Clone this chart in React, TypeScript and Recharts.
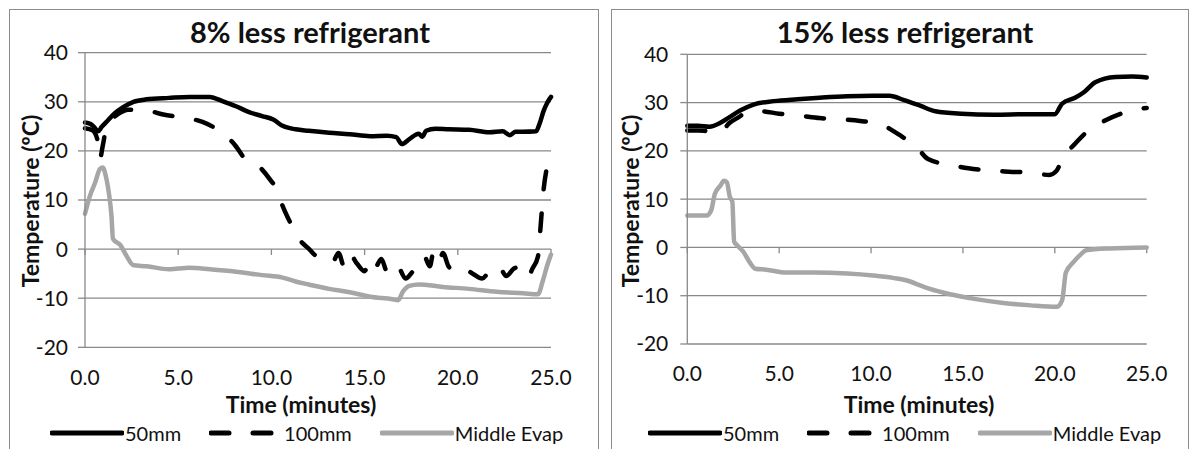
import { LineChart, Line, XAxis, YAxis, CartesianGrid, ReferenceLine } from "recharts";

const FONT = "Lato, 'Open Sans', sans-serif";
const GRID = "#898989";
const INK = "#111";
const H = 449;

const X_TICKS = [0, 5, 10, 15, 20, 25];
const Y_TICKS = [-20, -10, 0, 10, 20, 30, 40];
const NAMES = ["50mm", "100mm", "Middle Evap"];

// 8% less refrigerant
const L_T50 = [0, 0.3, 0.5, 0.7, 0.9, 1.2, 1.6, 2.0, 2.6, 3.3, 4.5, 5.6, 6.7, 7.4, 8.1, 8.8, 9.5, 10.1, 10.6, 11.3, 12.0, 13.1, 14.2, 15.3, 16.2, 16.7, 17.0, 17.4, 17.9, 18.1, 18.3, 18.8, 19.5, 20.6, 21.7, 22.4, 22.8, 23.1, 23.5, 24.2, 24.4, 24.6, 24.8, 25.0];
const L_V50 = [25.8, 25.5, 24.8, 24.0, 24.9, 26.1, 27.7, 28.8, 30.0, 30.5, 30.8, 31.0, 31.0, 30.1, 29.1, 27.9, 27.1, 26.4, 25.1, 24.4, 24.1, 23.7, 23.4, 23.0, 23.1, 22.8, 21.4, 22.4, 23.5, 22.9, 24.1, 24.5, 24.4, 24.3, 23.8, 24.0, 23.2, 23.9, 23.9, 24.0, 25.7, 28.1, 29.8, 31.0];
const L_T100 = [0, 0.4, 0.65, 0.8, 0.95, 1.15, 1.45, 1.9, 2.3, 3.1, 4.2, 5.3, 6.3, 7.2, 8.0, 8.6, 9.4, 9.9, 10.35, 10.55, 11.0, 11.4, 12.0, 12.5, 13.0, 13.3, 13.6, 13.9, 14.2, 14.6, 15.0, 15.3, 15.6, 15.9, 16.2, 16.5, 16.8, 17.2, 17.6, 18.0, 18.2, 18.5, 18.7, 19.0, 19.2, 19.5, 19.8, 20.3, 20.8, 21.3, 21.7, 22.2, 22.6, 23.0, 23.4, 23.8, 24.0, 24.3, 24.45, 24.6, 24.75, 25.0];
const L_V100 = [24.6, 24.2, 22.5, 18.4, 21.0, 24.8, 26.4, 27.8, 28.4, 28.4, 27.4, 26.8, 25.9, 24.1, 21.4, 18.3, 16.6, 14.3, 11.6, 9.3, 5.5, 2.5, 0.1, -1.5, -1.5, -2.5, -0.8, -3.5, -1.0, -3.0, -4.5, -2.0, -3.5, -2.0, -4.5, -3.0, -3.5, -6.0, -4.5, -3.0, -1.5, -3.5, -0.5, -2.5, -0.8, -3.5, -4.5, -4.0, -5.0, -6.0, -4.5, -3.5, -5.5, -4.0, -3.5, -5.5, -4.0, -1.5, 5.0, 12.0, 16.0, 18.6];
const L_TE = [0, 0.27, 0.55, 0.8, 0.95, 1.15, 1.3, 1.42, 1.5, 1.9, 2.2, 2.6, 3.3, 4.5, 5.6, 6.7, 8.1, 9.5, 10.6, 11.3, 12.0, 13.1, 14.2, 15.3, 16.5, 16.8, 17.05, 17.4, 17.9, 19.2, 20.6, 22.1, 23.5, 24.3, 24.55, 24.8, 25.0];
const L_VE = [7.2, 10.9, 13.6, 16.3, 16.6, 14.3, 10.9, 6.8, 2.1, 0.8, -1.2, -3.3, -3.5, -4.1, -3.8, -4.1, -4.6, -5.3, -5.8, -6.6, -7.2, -8.1, -8.8, -9.7, -10.2, -10.4, -8.7, -7.5, -7.2, -7.7, -8.1, -8.7, -9.0, -9.2, -6.6, -3.3, -1.1];

// 15% less refrigerant
const R_T50 = [0, 0.6, 1.2, 1.8, 2.3, 2.9, 3.6, 4.7, 6.0, 7.2, 8.7, 10.1, 11.0, 11.8, 12.7, 13.5, 14.9, 16.7, 18.5, 20.0, 20.4, 21.1, 21.6, 22.2, 23.3, 24.2, 25.0];
const R_V50 = [25.2, 25.2, 25.0, 25.8, 27.0, 28.4, 29.6, 30.3, 30.7, 31.0, 31.3, 31.4, 31.4, 30.5, 29.3, 28.2, 27.7, 27.5, 27.6, 27.6, 29.8, 31.0, 32.2, 34.2, 35.3, 35.4, 35.2];
const R_T100 = [0, 0.6, 1.2, 1.6, 1.95, 2.3, 2.8, 3.2, 4.0, 5.0, 6.1, 7.2, 8.5, 9.4, 10.7, 11.0, 11.5, 12.5, 13.1, 14.3, 15.3, 16.5, 17.5, 18.7, 19.7, 20.1, 20.4, 20.6, 20.9, 21.7, 22.5, 23.6, 24.6, 25.0];
const R_V100 = [24.2, 24.2, 24.1, 25.0, 24.6, 25.8, 27.0, 27.9, 28.2, 27.7, 27.3, 26.8, 26.5, 26.2, 25.3, 24.6, 23.4, 20.7, 18.3, 17.1, 16.4, 15.9, 15.7, 15.5, 15.0, 15.9, 18.3, 19.7, 20.7, 23.8, 25.8, 27.7, 28.7, 28.9];
const R_TE = [0, 1.05, 1.3, 1.5, 1.8, 2.0, 2.15, 2.32, 2.45, 2.55, 2.7, 3.05, 3.4, 3.7, 4.3, 5.4, 6.9, 8.7, 10.1, 11.2, 11.9, 12.7, 13.2, 14.3, 15.7, 17.2, 18.7, 20.1, 20.4, 20.6, 21.0, 21.4, 21.7, 23.0, 25.0];
const R_VE = [6.6, 6.6, 7.7, 11.1, 12.8, 13.8, 13.5, 10.4, 9.5, 1.2, 0.5, -0.9, -3.1, -4.4, -4.6, -5.2, -5.2, -5.4, -5.8, -6.3, -6.8, -7.9, -8.6, -9.7, -10.7, -11.5, -12.0, -12.3, -10.9, -5.2, -3.1, -1.5, -0.6, -0.2, 0.0];

const STYLES = [
  { color: "#000000", dash: undefined },
  { color: "#000000", dash: "18 24" },
  { color: "#a6a6a6", dash: undefined },
];

const pts = (t: number[], v: number[]) => t.map((x, i) => ({ t: x, v: v[i] }));

interface PanelProps {
  title: string;
  lines: { t: number[]; v: number[] }[];
  left: number;
  width: number;
  plot: { left: number; right: number; top: number; bottom: number };
  frame: { left: number; width: number };
  titleX: number;
  xTitleX: number;
  yTitleX: number;
  legendX: number;
  tickGap: number;
  xTickGap: number;
}

function Legend({ x }: { x: number }) {
  return (
    <div
      style={{
        position: "absolute",
        left: x,
        top: 433 - 12,
        height: 24,
        display: "flex",
        alignItems: "center",
        fontFamily: FONT,
        fontSize: 20,
        color: INK,
        whiteSpace: "nowrap",
      }}
    >
      {NAMES.map((n, i) => (
        <div key={n} style={{ display: "flex", alignItems: "center", marginLeft: i ? 28 : 0 }}>
          <svg width={74} height={8}>
            <line
              x1={2}
              y1={4}
              x2={72}
              y2={4}
              stroke={STYLES[i].color}
              strokeWidth={5}
              strokeLinecap="round"
              strokeDasharray={STYLES[i].dash}
            />
          </svg>
          <span style={{ marginLeft: 1 }}>{n}</span>
        </div>
      ))}
    </div>
  );
}

function Panel(p: PanelProps) {
  const xAxisH = 40;
  return (
    <>
      <div
        style={{
          position: "absolute",
          left: p.frame.left,
          top: 9,
          width: p.frame.width,
          height: 470,
          border: "1px solid #8c8c8c",
          boxSizing: "border-box",
        }}
      />
      <div
        style={{
          position: "absolute",
          left: p.titleX - 200,
          top: 44 - 28.6,
          width: 400,
          textAlign: "center",
          fontFamily: FONT,
          fontWeight: 700,
          fontSize: 29,
          lineHeight: "34.8px",
          color: INK,
        }}
      >
        {p.title}
      </div>
      <div style={{ position: "absolute", left: p.left, top: 0 }}>
        <LineChart
          width={p.width}
          height={H}
          margin={{ top: p.plot.top, right: p.width - p.plot.right, left: 0, bottom: H - p.plot.bottom - xAxisH }}
        >
          <CartesianGrid horizontal vertical={false} stroke={GRID} strokeWidth={1.3} />
          <XAxis
            type="number"
            dataKey="t"
            domain={[0, 25]}
            ticks={X_TICKS}
            interval={0}
            height={xAxisH}
            axisLine={false}
            tickLine={false}
            tickSize={0}
            tickMargin={p.xTickGap}
            tickFormatter={(v: number) => v.toFixed(1)}
            tick={{ fill: INK, fontSize: 21, fontFamily: FONT }}
            label={{
              content: () => (
                <text
                  x={p.xTitleX - p.left}
                  y={413}
                  textAnchor="middle"
                  fontFamily={FONT}
                  fontWeight={700}
                  fontSize={23}
                  fill={INK}
                >
                  Time (minutes)
                </text>
              ),
            }}
          />
          <YAxis
            type="number"
            domain={[-20, 40]}
            ticks={Y_TICKS}
            interval={0}
            width={p.plot.left}
            axisLine={{ stroke: GRID, strokeWidth: 1.3 }}
            tickLine={{ stroke: GRID, strokeWidth: 1.3 }}
            tickSize={7}
            tickMargin={p.tickGap}
            tick={{ fill: INK, fontSize: 21, fontFamily: FONT }}
            label={{
              content: () => (
                <text
                  x={p.yTitleX - p.left}
                  y={201}
                  transform={`rotate(-90 ${p.yTitleX - p.left} 201)`}
                  textAnchor="middle"
                  fontFamily={FONT}
                  fontWeight={700}
                  fontSize={23}
                  fill={INK}
                >
                  Temperature (ºC)
                </text>
              ),
            }}
          />
          {X_TICKS.map((t) => (
            <ReferenceLine
              key={t}
              segment={[
                { x: t, y: 0 },
                { x: t, y: -1.2 },
              ]}
              stroke={GRID}
              strokeWidth={1.3}
            />
          ))}
          {p.lines.map((l, i) => (
            <Line
              key={NAMES[i]}
              name={NAMES[i]}
              data={pts(l.t, l.v)}
              dataKey="v"
              type="monotone"
              stroke={STYLES[i].color}
              strokeWidth={4.5}
              strokeDasharray={STYLES[i].dash}
              strokeLinecap="round"
              strokeLinejoin="round"
              dot={false}
              activeDot={false}
              isAnimationActive={false}
            />
          ))}
        </LineChart>
      </div>
      <Legend x={p.legendX} />
    </>
  );
}

export default function App() {
  return (
    <div style={{ position: "absolute", left: 0, top: 0, width: 1191, height: H, overflow: "hidden", background: "#fff" }}>
      <Panel
        title="8% less refrigerant"
        lines={[
          { t: L_T50, v: L_V50 },
          { t: L_T100, v: L_V100 },
          { t: L_TE, v: L_VE },
        ]}
        left={0}
        width={598}
        plot={{ left: 85, right: 551, top: 52.7, bottom: 347.3 }}
        frame={{ left: 9, width: 590 }}
        titleX={310}
        xTitleX={301}
        yTitleX={38.6}
        legendX={50}
        tickGap={10}
        xTickGap={22.7}
      />
      <Panel
        title="15% less refrigerant"
        lines={[
          { t: R_T50, v: R_V50 },
          { t: R_T100, v: R_V100 },
          { t: R_TE, v: R_VE },
        ]}
        left={600}
        width={591}
        plot={{ left: 87.3, right: 546.7, top: 54.3, bottom: 344 }}
        frame={{ left: 611, width: 578 }}
        titleX={905}
        xTitleX={919}
        yTitleX={639}
        legendX={648}
        tickGap={12}
        xTickGap={22}
      />
    </div>
  );
}
